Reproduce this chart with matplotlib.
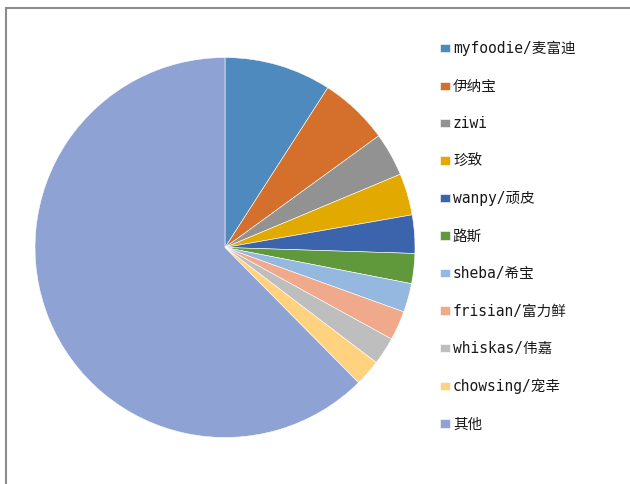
import matplotlib
matplotlib.use("Agg")
import matplotlib.pyplot as plt
from matplotlib.patches import Rectangle

plt.rcParams['font.family'] = ['DejaVu Sans Mono', 'Noto Sans CJK SC']

labels = ["myfoodie/麦富迪", "伊纳宝", "ziwi", "珍致", "wanpy/顽皮", "路斯",
          "sheba/希宝", "frisian/富力鲜", "whiskas/伟嘉", "chowsing/宠幸", "其他"]
values = [9.1, 5.9, 3.7, 3.55, 3.25, 2.55, 2.45, 2.5, 2.35, 2.25, 62.4]
colors = ["#4E8ABE", "#D4702B", "#929292", "#E2A900", "#3B64AD", "#5F993B",
          "#94B8DF", "#F1A98B", "#BEBEBE", "#FFD27F", "#8FA2D4"]

W, H = 630, 484
fig = plt.figure(figsize=(W / 100, H / 100), dpi=100)

# border
fig.patches.append(Rectangle((6 / W, -0.1), 1.2, (H - 8) / H + 0.1,
                             transform=fig.transFigure, fill=False,
                             edgecolor="#8C8C8C", linewidth=1.5))

cx, cy, r = 225, 247.5, 190
ax = fig.add_axes([(cx - r) / W, (H - cy - r) / H, 2 * r / W, 2 * r / H])
wedges, _ = ax.pie(values, colors=colors, startangle=90, counterclock=False,
                   radius=1, wedgeprops=dict(edgecolor="white", linewidth=0.4))
ax.set_xlim(-1, 1)
ax.set_ylim(-1, 1)
ax.set_aspect("equal")
ax.axis("off")

leg = fig.legend(wedges, labels, loc="upper left",
                 bbox_to_anchor=(427 / W, (H - 28) / H),
                 frameon=False, fontsize=10.5, handlelength=0.68, handleheight=0.5,
                 handletextpad=0.2, labelspacing=1.54)
for t in leg.get_texts():
    t.set_color("#1a1a1a")

fig.savefig("out.png", dpi=100)
